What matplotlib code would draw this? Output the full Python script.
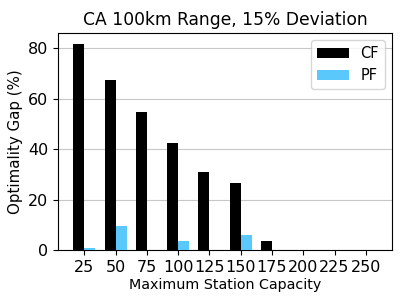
import numpy as np
import matplotlib
matplotlib.use('Agg')
import matplotlib.pyplot as plt

capacities = [25, 50, 75, 100, 125, 150, 175, 200, 225, 250]
cf_gap = [81.7, 67.3, 54.8, 42.6, 30.8, 26.4, 3.8, 0, 0, 0]
pf_gap = [0.8, 9.5, 0, 3.7, 0, 5.8, 0, 0, 0, 0]

fig, ax = plt.subplots(figsize=(4.07, 3.05), dpi=100)
x = np.arange(len(capacities))
w = 0.35
ax.bar(x - w/2, cf_gap, w, color='black', label='CF', zorder=3)
ax.bar(x + w/2, pf_gap, w, color='#5ac8fa', label='PF', zorder=3)

ax.set_xticks(x)
ax.set_xticklabels(capacities, fontsize=11.5)
ax.tick_params(axis='y', labelsize=11.5)
ax.set_yticks([0, 20, 40, 60, 80])
ax.set_ylim(0, 86)
ax.yaxis.grid(True, color='#c8c8c8', zorder=0)
ax.set_xlabel('Maximum Station Capacity', fontsize=10.3, labelpad=2)
ax.set_ylabel('Optimality Gap (%)', fontsize=10.8)
ax.set_title('CA 100km Range, 15% Deviation', fontsize=12.3)
ax.legend(loc='upper right', fontsize=10.5, handlelength=2.2)

fig.subplots_adjust(left=0.143, right=0.963, top=0.892, bottom=0.18)
fig.savefig('out.png', dpi=100)
